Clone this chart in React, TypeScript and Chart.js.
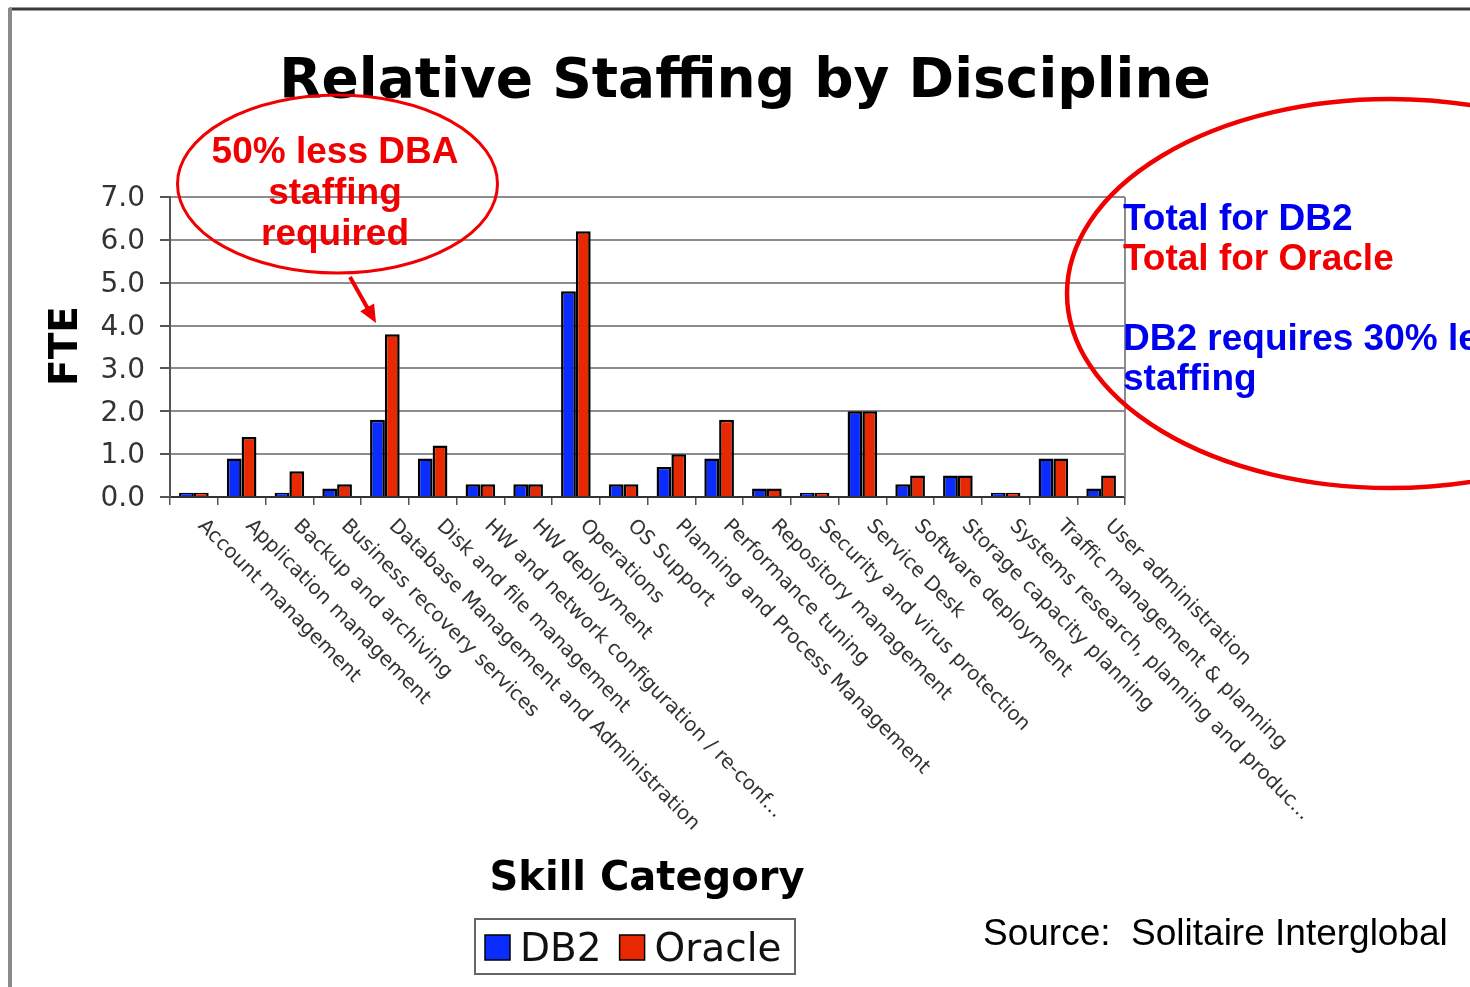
import React, { useEffect, useRef } from 'react';
import { Chart, registerables } from 'chart.js';

Chart.register(...registerables);

const categories = [
  'Account management',
  'Application management',
  'Backup and archiving',
  'Business recovery services',
  'Database Management and Administration',
  'Disk and file management',
  'HW and network configuration / re-conf...',
  'HW deployment',
  'Operations',
  'OS Support',
  'Planning and Process Management',
  'Performance tuning',
  'Repository management',
  'Security and virus protection',
  'Service Desk',
  'Software deployment',
  'Storage capacity planning',
  'Systems research, planning and produc...',
  'Traffic management & planning',
  'User administration',
];

const db2Values = [0.1, 0.9, 0.1, 0.2, 1.8, 0.9, 0.3, 0.3, 4.8, 0.3, 0.7, 0.9, 0.2, 0.1, 2.0, 0.3, 0.5, 0.1, 0.9, 0.2];
const oracleValues = [0.1, 1.4, 0.6, 0.3, 3.8, 1.2, 0.3, 0.3, 6.2, 0.3, 1.0, 1.8, 0.2, 0.1, 2.0, 0.5, 0.5, 0.1, 0.9, 0.5];

const seriesNames = ['DB2', 'Oracle'];
const seriesColors = ['#0a2cff', '#e82800'];

const yMin = 0;
const yMax = 7;
const yStep = 1;

const chartTitle = 'Relative Staffing by Discipline';
const yAxisTitle = 'FTE';
const xAxisTitle = 'Skill Category';
const sourceNote = 'Source:  Solitaire Interglobal';
const dbaNote = ['50% less DBA', 'staffing', 'required'];
const totalNotes = [
  { text: 'Total for DB2', color: '#0000f0' },
  { text: 'Total for Oracle', color: '#f00000' },
  { text: '', color: '#0000f0' },
  { text: 'DB2 requires 30% less', color: '#0000f0' },
  { text: 'staffing', color: '#0000f0' },
];

const W = 1470;
const H = 987;

const decorPlugin = {
  id: 'decor',
  beforeDraw(chart: any) {
    const ctx = chart.ctx;
    ctx.save();
    ctx.fillStyle = '#ffffff';
    ctx.fillRect(0, 0, chart.width, chart.height);
    ctx.restore();
  },
  afterDraw(chart: any) {
    const ctx: CanvasRenderingContext2D = chart.ctx;
    const { right, top, bottom } = chart.chartArea;
    const xs = chart.scales.x;

    ctx.save();
    // plot right border
    ctx.strokeStyle = '#8c8c8c';
    ctx.lineWidth = 2;
    ctx.beginPath();
    ctx.moveTo(right, top);
    ctx.lineTo(right, bottom);
    ctx.stroke();

    // slide frame
    ctx.strokeStyle = '#3a3a3a';
    ctx.lineWidth = 3;
    ctx.beginPath();
    ctx.moveTo(9, 9);
    ctx.lineTo(W, 9);
    ctx.stroke();
    ctx.strokeStyle = '#8a8a8a';
    ctx.lineWidth = 4;
    ctx.beginPath();
    ctx.moveTo(10, 8);
    ctx.lineTo(10, H);
    ctx.stroke();

    // title
    ctx.fillStyle = '#000';
    ctx.font = 'bold 55px "DejaVu Sans"';
    ctx.textAlign = 'center';
    ctx.textBaseline = 'alphabetic';
    ctx.fillText(chartTitle, 745, 97);

    // y axis title
    ctx.save();
    ctx.translate(77, 346);
    ctx.rotate(-Math.PI / 2);
    ctx.font = 'bold 39px "DejaVu Sans"';
    ctx.textAlign = 'center';
    ctx.fillText(yAxisTitle, 0, 0);
    ctx.restore();

    // x labels
    ctx.font = '20px "DejaVu Sans"';
    ctx.fillStyle = '#333';
    ctx.textAlign = 'left';
    ctx.textBaseline = 'middle';
    categories.forEach((c, i) => {
      const x = xs.getPixelForValue(i);
      ctx.save();
      ctx.translate(x + 7, bottom + 26);
      ctx.rotate(Math.PI / 4);
      ctx.fillText(c, 0, 0);
      ctx.restore();
    });

    // x axis title
    ctx.fillStyle = '#000';
    ctx.font = 'bold 40px "DejaVu Sans"';
    ctx.textAlign = 'center';
    ctx.textBaseline = 'alphabetic';
    ctx.fillText(xAxisTitle, 647, 890);

    // legend
    ctx.strokeStyle = '#666';
    ctx.lineWidth = 2;
    ctx.strokeRect(475, 919, 320, 55);
    ctx.font = '39px "DejaVu Sans"';
    ctx.textAlign = 'left';
    let lx = 485;
    chart.data.datasets.forEach((ds: any) => {
      ctx.fillStyle = ds.backgroundColor;
      ctx.fillRect(lx, 935, 25, 25);
      ctx.strokeStyle = '#000';
      ctx.lineWidth = 1.5;
      ctx.strokeRect(lx, 935, 25, 25);
      ctx.fillStyle = '#111';
      ctx.fillText(ds.label, lx + 35, 961);
      lx += 35 + ctx.measureText(ds.label).width + 18;
    });

    // source
    ctx.fillStyle = '#000';
    ctx.font = '37px "Liberation Sans"';
    ctx.fillText(sourceNote, 983, 945);

    // left annotation
    ctx.strokeStyle = '#f00000';
    ctx.lineWidth = 3;
    ctx.beginPath();
    ctx.ellipse(337.5, 184, 160, 89, 0, 0, Math.PI * 2);
    ctx.stroke();
    ctx.fillStyle = '#f00000';
    ctx.font = 'bold 37px "Liberation Sans"';
    ctx.textAlign = 'center';
    dbaNote.forEach((t, i) => ctx.fillText(t, 335, 163 + i * 41));

    // arrow
    ctx.lineWidth = 4;
    ctx.beginPath();
    ctx.moveTo(350, 277);
    ctx.lineTo(368, 309);
    ctx.stroke();
    ctx.beginPath();
    ctx.moveTo(376, 323);
    ctx.lineTo(360.2, 311.2);
    ctx.lineTo(374.1, 303.4);
    ctx.closePath();
    ctx.fill();

    // right annotation
    ctx.lineWidth = 4.5;
    ctx.beginPath();
    ctx.ellipse(1390, 293.5, 323, 194.5, 0, 0, Math.PI * 2);
    ctx.stroke();
    ctx.textAlign = 'left';
    totalNotes.forEach((n, i) => {
      if (!n.text) return;
      ctx.fillStyle = n.color;
      ctx.fillText(n.text, 1123, 230 + i * 40);
    });

    ctx.restore();
  },
};

export default function App() {
  const ref = useRef<HTMLCanvasElement | null>(null);

  useEffect(() => {
    if (!ref.current) return;
    const chart = new Chart(ref.current, {
      type: 'bar',
      data: {
        labels: categories,
        datasets: [
          {
            label: seriesNames[0],
            data: db2Values,
            backgroundColor: seriesColors[0],
            borderColor: '#000',
            borderWidth: 2.5,
            categoryPercentage: 0.62,
            barPercentage: 1.0,
          },
          {
            label: seriesNames[1],
            data: oracleValues,
            backgroundColor: seriesColors[1],
            borderColor: '#000',
            borderWidth: 2.5,
            categoryPercentage: 0.62,
            barPercentage: 1.0,
          },
        ],
      },
      options: {
        responsive: false,
        animation: false,
        devicePixelRatio: 1,
        layout: { padding: { left: 0, top: 197, right: W - 1125, bottom: H - 497 - 10 } },
        plugins: {
          legend: { display: false },
          title: { display: false },
          tooltip: { enabled: false },
        },
        scales: {
          x: {
            offset: true,
            ticks: { display: false },
            grid: {
              display: true,
              drawOnChartArea: false,
              drawTicks: true,
              tickLength: 8,
              color: '#555',
              lineWidth: 1.5,
              offset: true,
            },
            border: { display: true, color: '#333', width: 2 },
            afterFit: (s: any) => {
              s.height = 10;
            },
          },
          y: {
            min: yMin,
            max: yMax,
            ticks: {
              stepSize: yStep,
              callback: (v: any) => Number(v).toFixed(1),
              font: { family: 'DejaVu Sans', size: 28 },
              color: '#333',
              padding: 15,
              labelOffset: 2,
            },
            grid: {
              color: '#8c8c8c',
              lineWidth: 2,
              tickLength: 10,
              drawTicks: true,
              tickColor: '#555',
            },
            border: { display: true, color: '#555', width: 2 },
            afterFit: (s: any) => {
              s.width = 170;
            },
          },
        },
      },
      plugins: [decorPlugin],
    });
    return () => chart.destroy();
  }, []);

  return (
    <div style={{ position: 'absolute', left: 0, top: 0, width: W, height: H, background: '#fff' }}>
      <canvas ref={ref} width={W} height={H} style={{ display: 'block' }} />
    </div>
  );
}
